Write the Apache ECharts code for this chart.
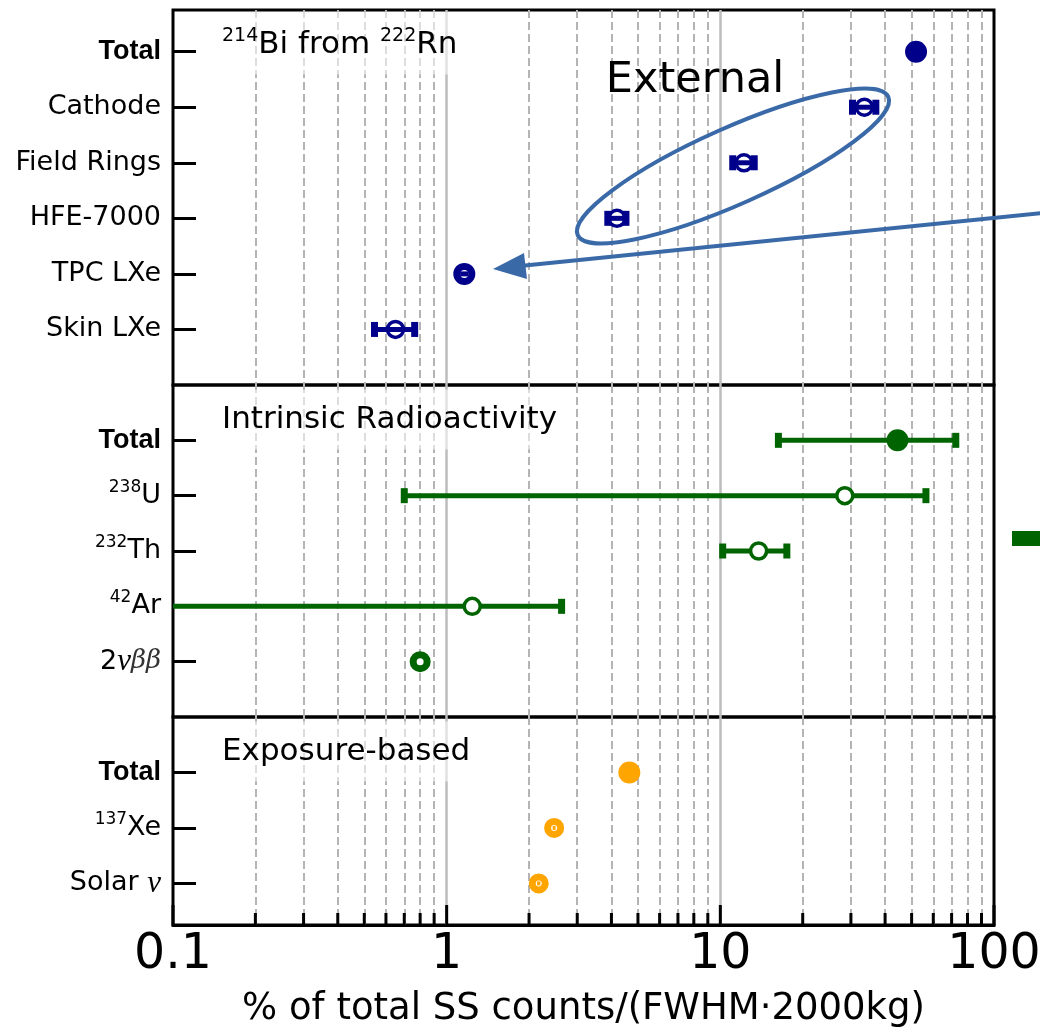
<!DOCTYPE html>
<html>
<head>
<meta charset="utf-8">
<script src="https://cdn.jsdelivr.net/npm/echarts@6/dist/echarts.min.js"></script>
<style>
  html, body { margin: 0; padding: 0; background: #fff; }
  #chart { width: 1040px; height: 1032px; }
</style>
</head>
<body>
<div id="chart"></div>
<script>
// ---- axis ticks / grid values (log axis, % of total SS counts) ----
const xMin = 0.1;
const xMax = 100;
const majorTickValues = [0.1, 1, 10, 100];
const majorGridValues = [1, 10];
const minorGridValues = [0.2, 0.3, 0.4, 0.5, 0.6, 0.7, 0.8, 0.9,
                         2, 3, 4, 5, 6, 7, 8, 9,
                         20, 30, 40, 50, 60, 70, 80, 90];

// ---- 214Bi from 222Rn ----
const bi214Labels = ['{b|Total}', '{t|Cathode}', '{t|Field Rings}', '{t|HFE-7000}', '{t|TPC LXe}', '{t|Skin LXe}'];
const bi214Value  = [51.9, 33.6, 12.2, 4.19, 1.16, 0.65];
const bi214Low    = [50.6, 30.4, 11.1, 3.88, 1.12, 0.545];
const bi214High   = [53.2, 37.0, 13.3, 4.52, 1.20, 0.764];
const bi214Marker = ['filled', 'open', 'open', 'open', 'thick', 'open'];

// ---- Intrinsic radioactivity ----
const intrinsicLabels = ['{b|Total}', '{sup|238}{t|U}', '{sup|232}{t|Th}', '{sup|42}{t|Ar}', '{t|2}{it|ν}{gr|ββ}'];
const intrinsicValue  = [44.4, 28.5, 13.8, 1.24, 0.80];
const intrinsicLow    = [16.3, 0.70, 10.2, 0.03, 0.79];
const intrinsicHigh   = [72.5, 56.4, 17.5, 2.63, 0.81];
const intrinsicMarker = ['filled', 'open', 'open', 'open', 'thick'];

// ---- Exposure-based ----
const exposureLabels = ['{b|Total}', '{sup|137}{t|Xe}', '{t|Solar }{it|ν}'];
const exposureValue  = [4.65, 2.47, 2.17];
const exposureLow    = [4.60, 2.44, 2.14];
const exposureHigh   = [4.70, 2.50, 2.20];
const exposureMarker = ['filled', 'thick', 'thick'];

const panelTitles = [
  '{s|214}{n|Bi from }{s|222}{n|Rn}',
  '{n|Intrinsic Radioactivity}',
  '{n|Exposure-based}'
];

const NAVY = '#00008b';
const GREEN = '#006400';
const ORANGE = '#ffa500';
const ANNOT = '#3a69a8';

const panels = [
  { labels: bi214Labels, value: bi214Value, low: bi214Low, high: bi214High, marker: bi214Marker,
    color: NAVY, top: 10, height: 375, yMin: -0.75, yMax: 6, barsOnTop: true, barWidth: 5, thickSize: 15 },
  { labels: intrinsicLabels, value: intrinsicValue, low: intrinsicLow, high: intrinsicHigh, marker: intrinsicMarker,
    color: GREEN, top: 385, height: 332, yMin: -1, yMax: 5, barsOnTop: false, barWidth: 5, thickSize: 14 },
  { labels: exposureLabels, value: exposureValue, low: exposureLow, high: exposureHigh, marker: exposureMarker,
    color: ORANGE, top: 717, height: 208, yMin: -1, yMax: 2.75, barsOnTop: true, barWidth: 4, thickSize: 13 }
];

const PLOT_LEFT = 173;
const PLOT_RIGHT = 1040 - 994;

const labelRich = {
  t:   { fontFamily: 'DejaVu Sans', fontSize: 27, lineHeight: 34, color: '#000' },
  b:   { fontFamily: 'Liberation Sans', fontWeight: 'bold', fontSize: 27, lineHeight: 34, color: '#000' },
  sup: { fontFamily: 'DejaVu Sans', fontSize: 17, lineHeight: 34, verticalAlign: 'top', color: '#000' },
  it:  { fontFamily: 'Liberation Serif', fontStyle: 'italic', fontSize: 31, lineHeight: 34, color: '#000' },
  gr:  { fontFamily: 'DejaVu Serif', fontStyle: 'italic', fontSize: 26, lineHeight: 34, color: '#333' }
};

function markerStyle(kind, color, thickSize) {
  if (kind === 'filled') {
    return { symbolSize: 22, itemStyle: { color: color, borderWidth: 0, opacity: 1 } };
  }
  if (kind === 'thick') {
    return { symbolSize: thickSize, itemStyle: { color: '#fff', borderColor: color, borderWidth: 7, opacity: 1 } };
  }
  return { symbolSize: 16, itemStyle: { color: '#fff', borderColor: color, borderWidth: 3.5, opacity: 1 } };
}

function errorBarRenderer(color, lineWidth) {
  return function (params, api) {
    const row = api.value(2);
    const p1 = api.coord([api.value(0), row]);
    const p2 = api.coord([api.value(1), row]);
    const children = [{
      type: 'line',
      shape: { x1: p1[0], y1: p1[1], x2: p2[0], y2: p2[1] },
      style: { stroke: color, lineWidth: lineWidth }
    }];
    if (Math.abs(p2[0] - p1[0]) > 14) {
      const capW = 7, capH = 15;
      [p1, p2].forEach(function (p) {
        children.push({
          type: 'rect',
          shape: { x: p[0] - capW / 2, y: p[1] - capH / 2, width: capW, height: capH },
          style: { fill: color }
        });
      });
    }
    return { type: 'group', children: children };
  };
}

// inward tick marks standing on the bottom edge of the plot
function tickRenderer(length) {
  return function (params, api) {
    const x = api.coord([api.value(0), api.value(1)])[0];
    const cs = params.coordSys;
    const yb = cs.y + cs.height;
    return {
      type: 'line',
      shape: { x1: x, y1: yb, x2: x, y2: yb - length },
      style: { stroke: '#000', lineWidth: 3 }
    };
  };
}

const grids = [];
const xAxes = [];
const yAxes = [];
const series = [];
const titles = [];

panels.forEach(function (p, i) {
  grids.push({
    left: PLOT_LEFT, right: PLOT_RIGHT, top: p.top, height: p.height,
    outerBoundsMode: 'none', containLabel: false,
    show: true, borderColor: '#000', borderWidth: 3, backgroundColor: 'transparent'
  });
  const isBottom = i === panels.length - 1;
  xAxes.push({
    type: 'log', logBase: 10, gridIndex: i, min: xMin, max: xMax, position: 'bottom',
    axisLine: { show: isBottom, onZero: false, lineStyle: { color: '#000', width: 3 } },
    axisTick: { show: false },
    axisLabel: {
      show: isBottom, margin: 6, color: '#000',
      fontFamily: 'DejaVu Sans', fontSize: 49
    },
    splitLine: { show: false },
    name: isBottom ? '% of total SS counts/(FWHM·2000kg)' : '',
    nameLocation: 'middle', nameGap: 66,
    nameTextStyle: { fontFamily: 'DejaVu Sans', fontSize: 37, color: '#000' }
  });
  const rows = p.labels.map(function (_, k) { return k; });
  yAxes.push({
    type: 'value', gridIndex: i, inverse: true, min: p.yMin, max: p.yMax,
    axisLine: { show: false, onZero: false },
    axisTick: { show: true, inside: true, length: 23, customValues: rows,
                lineStyle: { color: '#000', width: 3 } },
    axisLabel: {
      show: true, margin: 12, customValues: rows,
      formatter: function (v) { return p.labels[Math.round(v)] || ''; },
      rich: labelRich
    },
    splitLine: { show: false }
  });

  // background reference lines
  series.push({
    type: 'scatter', xAxisIndex: i, yAxisIndex: i, data: [], z: 1, silent: true,
    markLine: {
      z: 1, silent: true, symbol: ['none', 'none'], animation: false,
      label: { show: false },
      data: minorGridValues.map(function (v) {
        return { xAxis: v, lineStyle: { color: '#b4b4b4', width: 2, type: [8, 4] } };
      }).concat(majorGridValues.map(function (v) {
        return { xAxis: v, lineStyle: { color: '#bdbdbd', width: 2.5, type: 'solid' } };
      }))
    }
  });

  // error bars
  series.push({
    type: 'custom', xAxisIndex: i, yAxisIndex: i, clip: true,
    z: p.barsOnTop ? 4 : 3,
    renderItem: errorBarRenderer(p.color, p.barWidth),
    encode: { x: [0, 1], y: 2 },
    data: rows.map(function (k) { return [p.low[k], p.high[k], k]; })
  });

  // central values
  series.push({
    type: 'scatter', xAxisIndex: i, yAxisIndex: i, symbol: 'circle',
    z: p.barsOnTop ? 3 : 4,
    itemStyle: { opacity: 1 },
    data: rows.map(function (k) {
      const m = markerStyle(p.marker[k], p.color, p.thickSize);
      return { value: [p.value[k], k], symbolSize: m.symbolSize, itemStyle: m.itemStyle };
    })
  });

  // panel heading on a translucent white box
  titles.push({
    text: panelTitles[i],
    left: 210, top: p.top + 2,
    padding: [15, 12, 14, 12],
    backgroundColor: 'rgba(255,255,255,0.55)',
    textStyle: {
      fontWeight: 'normal',
      rich: {
        n: { fontFamily: 'DejaVu Sans', fontWeight: 'normal', fontSize: 31, lineHeight: 36, color: '#000' },
        s: { fontFamily: 'DejaVu Sans', fontWeight: 'normal', fontSize: 19, lineHeight: 36, verticalAlign: 'top', color: '#000' }
      }
    }
  });
});

// tick marks on the bottom axis: long at decades, short in between
series.push({
  type: 'custom', xAxisIndex: 2, yAxisIndex: 2, z: 6, silent: true,
  renderItem: tickRenderer(20),
  encode: { x: 0, y: 1 },
  data: majorTickValues.map(function (v) { return [v, 0]; })
});
series.push({
  type: 'custom', xAxisIndex: 2, yAxisIndex: 2, z: 6, silent: true,
  renderItem: tickRenderer(12),
  encode: { x: 0, y: 1 },
  data: minorGridValues.map(function (v) { return [v, 0]; })
});

const option = {
  backgroundColor: '#fff',
  animation: false,
  title: titles,
  grid: grids,
  xAxis: xAxes,
  yAxis: yAxes,
  series: series,
  graphic: [
    {
      type: 'text', z: 10, silent: true,
      style: { text: 'External', x: 695, y: 81, align: 'center', verticalAlign: 'middle',
               fontFamily: 'DejaVu Sans', fontSize: 43, fill: '#000' }
    },
    {
      type: 'ellipse', z: 10, silent: true,
      x: 733, y: 166, rotation: 24 * Math.PI / 180,
      shape: { cx: 0, cy: 0, rx: 170, ry: 38 },
      style: { fill: 'none', stroke: ANNOT, lineWidth: 4 }
    },
    {
      type: 'line', z: 10, silent: true,
      shape: { x1: 1042, y1: 213, x2: 520, y2: 266 },
      style: { stroke: ANNOT, lineWidth: 4 }
    },
    {
      type: 'polygon', z: 10, silent: true,
      shape: { points: [[493, 269], [527, 279], [524, 253]] },
      style: { fill: ANNOT }
    },
    {
      type: 'rect', z: 10, silent: true,
      shape: { x: 1012, y: 531, width: 30, height: 15 },
      style: { fill: GREEN }
    }
  ]
};

const chart = echarts.init(document.getElementById('chart'), null, { renderer: 'canvas' });
chart.setOption(option);
</script>
</body>
</html>
